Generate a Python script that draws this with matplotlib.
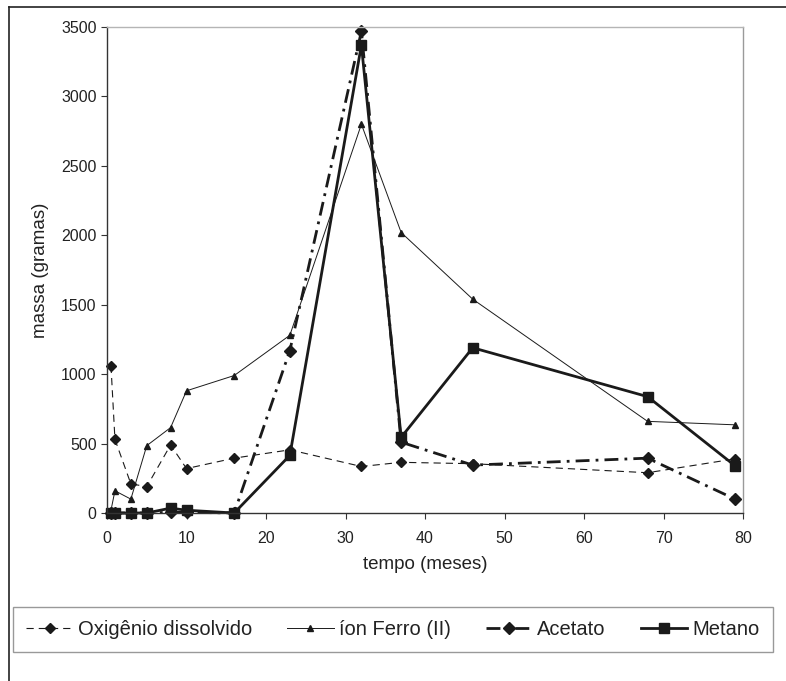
import matplotlib.pyplot as plt
from matplotlib.lines import Line2D

plt.rcParams['font.family'] = ['Liberation Sans', 'DejaVu Sans']

# Data
tempo = [0.5, 1, 3, 5, 8, 10, 16, 23, 32, 37, 46, 68, 79]
oxigenio = [1060, 530, 210, 190, 490, 320, 395, 455, 335, 365, 355, 290, 390]
ferro = [20, 160, 100, 485, 615, 880, 990, 1280, 2800, 2020, 1540, 660, 635]
acetato = [0, 0, 0, 0, 5, 5, 0, 1170, 3470, 510, 345, 395, 100]
metano = [0, 0, 0, 0, 35, 20, 0, 415, 3370, 545, 1190, 838, 340]

cor = '#1a1a1a'

fig = plt.figure(figsize=(7.86, 6.81), dpi=100)
ax = fig.add_axes([107 / 786, 1 - 513 / 681, (743 - 107) / 786, (513 - 27) / 681])

ax.plot(tempo, oxigenio, color=cor, lw=0.8, dashes=(6.5, 4.5),
        marker='D', ms=5, label='Oxigênio dissolvido', clip_on=False)
ax.plot(tempo, ferro, color=cor, lw=0.7,
        marker='^', ms=5, label='íon Ferro (II)', clip_on=False)
ax.plot(tempo, acetato, color=cor, lw=2.0, dashes=(5, 2.2, 1, 2.2),
        marker='D', ms=6.5, label='Acetato', clip_on=False)
ax.plot(tempo, metano, color=cor, lw=2.0,
        marker='s', ms=7.5, label='Metano', clip_on=False)

ax.set_xlim(0, 80)
ax.set_ylim(0, 3500)
ax.set_xticks(range(0, 81, 10))
ax.set_yticks(range(0, 3501, 500))
ax.tick_params(direction='out', length=4, width=0.8, colors='#333333',
               labelsize=11.5, labelcolor='#222222')
ax.tick_params(axis='x', pad=9)
ax.spines['top'].set_color('#b5b5b5')
ax.spines['right'].set_color('#9a9a9a')
ax.spines['left'].set_color('#333333')
ax.spines['bottom'].set_color('#333333')
for s in ax.spines.values():
    s.set_linewidth(1.0)

ax.set_xlabel('tempo (meses)', fontsize=13.5, color='#222222', labelpad=7)
ax.set_ylabel('massa (gramas)', fontsize=13.5, color='#222222', labelpad=9)

# legend below the plot
leg = fig.legend(loc='center', bbox_to_anchor=(0.5, 1 - 629.5 / 681), ncol=4,
                 fontsize=14.5, frameon=True, fancybox=False, handlelength=2.3,
                 handletextpad=0.25, columnspacing=1.75, borderpad=0.65)
leg.get_frame().set_edgecolor('#808080')
leg.get_frame().set_linewidth(1.0)
for t in leg.get_texts():
    t.set_color('#222222')

# outer frame (cropped)
fig.add_artist(Line2D([9 / 786, 9 / 786], [0, 1 - 7 / 681], color='#222222',
                      lw=1.2, transform=fig.transFigure))
fig.add_artist(Line2D([9 / 786, 1], [1 - 7 / 681, 1 - 7 / 681], color='#222222',
                      lw=1.2, transform=fig.transFigure))

fig.savefig('out.png', dpi=100)
